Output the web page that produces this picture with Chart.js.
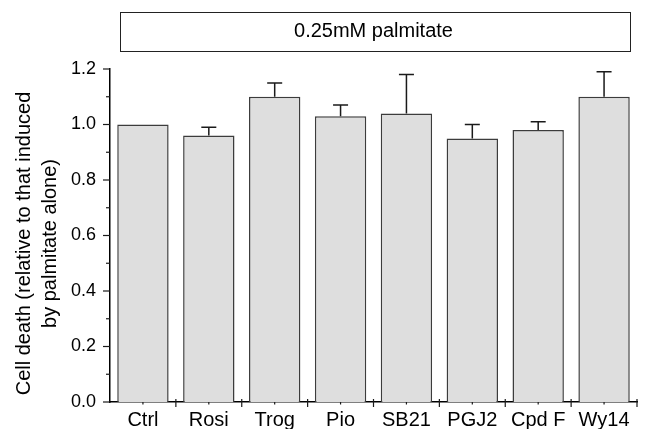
<!DOCTYPE html>
<html>
<head>
<meta charset="utf-8">
<title>Cell death - 0.25mM palmitate</title>
<script src="https://cdn.jsdelivr.net/npm/chart.js@4.4.0/dist/chart.umd.min.js"></script>
<style>
    body {
        margin: 0;
        padding: 0;
        background: #fff;
    }
    #wrap {
        width: 645px;
        height: 429px;
    }
</style>
</head>
<body>
<div id="wrap"><canvas id="chart" width="645" height="429"></canvas></div>
<script>
    // values
    const categories = ['Ctrl', 'Rosi', 'Trog', 'Pio', 'SB21', 'PGJ2', 'Cpd F', 'Wy14'];
    const means = [1.00, 0.96, 1.10, 1.03, 1.04, 0.95, 0.98, 1.10];
    const errUp = [0.00, 0.03, 0.05, 0.04, 0.14, 0.05, 0.03, 0.09];
    const yTicks = [0.0, 0.2, 0.4, 0.6, 0.8, 1.0, 1.2];
    const yMinorTicks = [0.1, 0.3, 0.5, 0.7, 0.9, 1.1];
    const panelTitle = '0.25mM palmitate';
    const yTitle = ['Cell death (relative to that induced', 'by palmitate alone)'];

    const FONT = "'Liberation Sans', Arial, Helvetica, sans-serif";

    // ticks, error bars, title box and axis title
    const extras = {
        id: 'extras',
        afterDatasetsDraw(chart) {
            const ctx = chart.ctx;
            const x = chart.scales.x;
            const y = chart.scales.y;
            const area = chart.chartArea;
            ctx.save();

            // error bars (upper only)
            ctx.strokeStyle = '#1a1a1a';
            ctx.lineWidth = 1.5;
            means.forEach((m, i) => {
                if (!errUp[i]) return;
                const cx = x.getPixelForValue(i);
                const y0 = y.getPixelForValue(m);
                const y1 = y.getPixelForValue(m + errUp[i]);
                ctx.beginPath();
                ctx.moveTo(cx, y0);
                ctx.lineTo(cx, y1);
                ctx.moveTo(cx - 7.5, y1);
                ctx.lineTo(cx + 7.5, y1);
                ctx.stroke();
            });

            // y ticks
            ctx.lineWidth = 1.2;
            yTicks.forEach(v => {
                const py = y.getPixelForValue(v);
                ctx.beginPath();
                ctx.moveTo(area.left - 7, py);
                ctx.lineTo(area.left, py);
                ctx.stroke();
            });
            yMinorTicks.forEach(v => {
                const py = y.getPixelForValue(v);
                ctx.beginPath();
                ctx.moveTo(area.left - 4, py);
                ctx.lineTo(area.left, py);
                ctx.stroke();
            });

            // x ticks: boundaries and centres
            const half = (x.getPixelForValue(1) - x.getPixelForValue(0)) / 2;
            categories.forEach((c, i) => {
                const cx = x.getPixelForValue(i);
                ctx.beginPath();
                ctx.moveTo(cx, area.bottom);
                ctx.lineTo(cx, area.bottom + 2.5);
                ctx.moveTo(cx + half, area.bottom - 3);
                ctx.lineTo(cx + half, area.bottom + 5);
                ctx.stroke();
            });

            // panel title box
            ctx.lineWidth = 1;
            ctx.strokeStyle = '#222';
            ctx.strokeRect(area.left + 10.5, 12.5, area.right - area.left - 17, 39);

            // y axis title
            ctx.fillStyle = '#000';
            ctx.font = '20px ' + FONT;
            ctx.textAlign = 'center';
            ctx.textBaseline = 'middle';
            ctx.translate(0, (area.top + area.bottom) / 2 + 8);
            ctx.rotate(-Math.PI / 2);
            ctx.fillText(yTitle[0], 0, 24);
            ctx.fillText(yTitle[1], 0, 50);
            ctx.restore();
        }
    };

    new Chart(document.getElementById('chart'), {
        type: 'bar',
        data: {
            labels: categories,
            datasets: [{
                data: means,
                backgroundColor: '#dedede',
                borderColor: '#3c3c3c',
                borderWidth: 1.5,
                barPercentage: 0.78,
                categoryPercentage: 1.0
            }]
        },
        options: {
            responsive: false,
            devicePixelRatio: 1,
            animation: false,
            layout: {
                padding: { left: 0, right: 8, top: 0, bottom: 0 }
            },
            plugins: {
                legend: { display: false },
                tooltip: { enabled: false },
                title: {
                    display: true,
                    text: panelTitle,
                    fullSize: false,
                    color: '#000',
                    font: { family: FONT, size: 20, weight: 'normal' },
                    padding: { top: 19.5, bottom: 25.5 }
                }
            },
            scales: {
                x: {
                    type: 'category',
                    offset: true,
                    grid: { display: false, drawTicks: false },
                    border: { display: true, color: '#000', width: 1.5 },
                    ticks: {
                        color: '#000',
                        font: { family: FONT, size: 20 },
                        padding: 6,
                        maxRotation: 0,
                        autoSkip: false
                    },
                    afterFit(scale) { scale.height = 27; }
                },
                y: {
                    min: 0,
                    max: 1.2,
                    grid: { display: false, drawTicks: false },
                    border: { display: true, color: '#000', width: 1.5 },
                    ticks: {
                        stepSize: 0.2,
                        color: '#000',
                        font: { family: FONT, size: 18 },
                        padding: 14,
                        callback: v => v.toFixed(1)
                    },
                    afterFit(scale) { scale.width = 110; }
                }
            }
        },
        plugins: [extras]
    });
</script>
</body>
</html>
